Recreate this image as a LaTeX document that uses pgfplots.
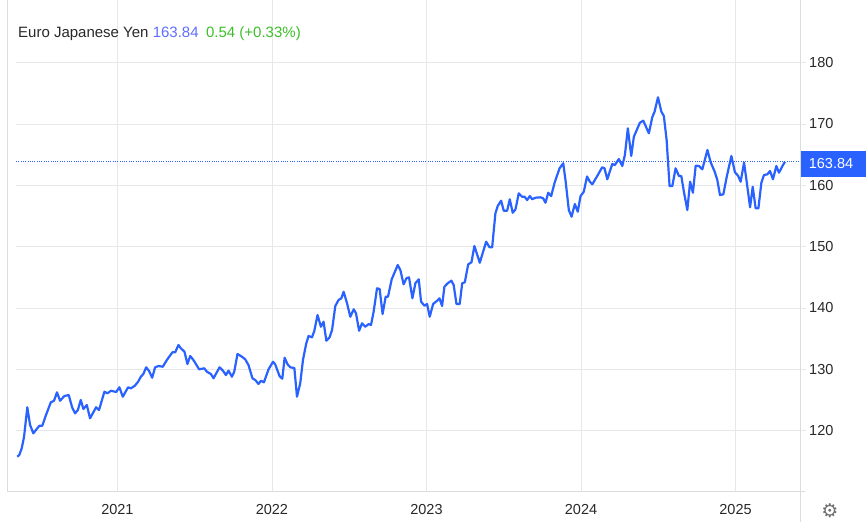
\documentclass[border=0pt]{standalone}
\usepackage{pgfplots}
\pgfplotsset{compat=1.18}
\usepackage{fontspec}
\setmainfont{Liberation Sans}
\newfontfamily\symfont{DejaVu Sans}
\definecolor{lineblue}{RGB}{41,98,255}
\definecolor{gridc}{RGB}{230,232,235}
\definecolor{axisc}{RGB}{218,220,224}
\definecolor{txt}{RGB}{40,40,40}
\definecolor{valblue}{RGB}{95,110,255}
\definecolor{valgreen}{RGB}{60,190,40}
\definecolor{boxblue}{RGB}{41,98,255}
\definecolor{gearc}{RGB}{110,110,110}
\begin{document}
\begin{tikzpicture}
\path[use as bounding box] (0pt,0pt) rectangle (866pt,522pt);
\begin{axis}[
  at={(7pt,30.3pt)}, anchor=south west,
  scale only axis, width=793.7pt, height=491.7pt,
  xmin=2020.2856, xmax=2025.4216,
  ymin=110.02, ymax=190.23,
  axis line style={draw=none},
  xtick={2021,2022,2023,2024,2025},
  xticklabels={2021,2022,2023,2024,2025},
  xmajorgrids, grid style={gridc, line width=0.8pt},
  xtick style={draw=none},
  ytick={120,130,140,150,160,170,180},
  ytick pos=right, yticklabel pos=right,
  ytick style={gridc, line width=0.8pt},
  tick align=outside, major tick length=5pt,
  ticklabel style={font=\fontsize{14.5}{16}\selectfont, text=txt},
  xticklabel style={yshift=-4pt},
  yticklabel style={anchor=west, xshift=0pt},
  /pgf/number format/assume math mode=true,
  clip=false,
]
\draw[gridc, line width=0.8pt] (axis cs:2020.344,120) -- (axis cs:2025.4216,120);
\draw[gridc, line width=0.8pt] (axis cs:2020.344,130) -- (axis cs:2025.4216,130);
\draw[gridc, line width=0.8pt] (axis cs:2020.344,140) -- (axis cs:2025.4216,140);
\draw[gridc, line width=0.8pt] (axis cs:2020.344,150) -- (axis cs:2025.4216,150);
\draw[gridc, line width=0.8pt] (axis cs:2020.344,160) -- (axis cs:2025.4216,160);
\draw[gridc, line width=0.8pt] (axis cs:2020.344,170) -- (axis cs:2025.4216,170);
\draw[gridc, line width=0.8pt] (axis cs:2020.344,180) -- (axis cs:2025.4216,180);
\draw[lineblue, line width=1pt, dash pattern=on 1pt off 1.3pt] (axis cs:2020.344,163.84) -- (axis cs:2025.4216,163.84);
\addplot[lineblue, line width=2.2pt, line join=round, mark=none] coordinates {
(2020.352,115.73) (2020.365,116.00) (2020.381,117.10) (2020.396,118.99) (2020.417,123.79)
(2020.435,120.90) (2020.456,119.54) (2020.478,120.25) (2020.495,120.78) (2020.514,120.78)
(2020.538,122.53) (2020.569,124.60) (2020.590,124.86) (2020.609,126.23) (2020.629,124.86)
(2020.657,125.63) (2020.685,125.79) (2020.707,123.79) (2020.726,122.81) (2020.744,123.34)
(2020.763,124.98) (2020.780,123.51) (2020.802,124.16) (2020.823,121.99) (2020.862,123.79)
(2020.881,123.34) (2020.916,126.33) (2020.935,126.07) (2020.959,126.49) (2020.992,126.28)
(2021.013,127.05) (2021.035,125.51) (2021.069,127.05) (2021.087,126.88) (2021.113,127.31)
(2021.134,127.96) (2021.152,128.78) (2021.168,129.22) (2021.186,130.31) (2021.205,129.71)
(2021.225,128.61) (2021.244,130.31) (2021.266,130.52) (2021.294,130.41) (2021.320,131.50)
(2021.356,132.76) (2021.374,132.76) (2021.395,133.95) (2021.411,133.41) (2021.434,132.86)
(2021.453,130.85) (2021.471,132.15) (2021.492,131.50) (2021.529,129.98) (2021.562,130.15)
(2021.579,129.59) (2021.605,129.22) (2021.622,128.52) (2021.661,130.31) (2021.683,129.76)
(2021.702,129.05) (2021.719,129.76) (2021.741,128.78) (2021.756,129.59) (2021.777,132.48)
(2021.806,132.04) (2021.827,131.62) (2021.848,130.69) (2021.874,128.52) (2021.892,128.24)
(2021.913,127.59) (2021.929,128.12) (2021.948,127.86) (2021.978,129.98) (2022.007,131.22)
(2022.021,130.80) (2022.049,128.89) (2022.067,128.45) (2022.082,131.88) (2022.101,130.80)
(2022.119,130.31) (2022.145,130.20) (2022.162,125.51) (2022.183,127.70) (2022.201,131.55)
(2022.222,134.19) (2022.237,135.42) (2022.259,135.20) (2022.274,136.23) (2022.295,138.84)
(2022.317,136.93) (2022.334,137.75) (2022.352,134.65) (2022.373,135.20) (2022.389,136.39)
(2022.410,140.31) (2022.431,141.29) (2022.449,141.57) (2022.464,142.64) (2022.486,140.75)
(2022.507,138.56) (2022.529,139.77) (2022.544,139.12) (2022.564,136.28) (2022.583,137.49)
(2022.604,136.93) (2022.626,137.37) (2022.641,137.21) (2022.658,139.38) (2022.680,143.20)
(2022.697,143.08) (2022.716,139.01) (2022.736,141.83) (2022.751,141.83) (2022.775,144.67)
(2022.814,147.00) (2022.831,146.18) (2022.852,143.85) (2022.870,144.83) (2022.887,144.99)
(2022.909,141.57) (2022.928,144.01) (2022.950,144.67) (2022.965,141.01) (2022.987,140.36)
(2023.004,140.64) (2023.021,138.56) (2023.043,140.64) (2023.069,141.17) (2023.084,141.57)
(2023.101,140.31) (2023.116,143.46) (2023.137,144.01) (2023.161,144.44) (2023.176,143.74)
(2023.194,140.64) (2023.215,140.64) (2023.231,144.01) (2023.248,144.18) (2023.270,147.11)
(2023.291,147.44) (2023.310,150.10) (2023.345,147.37) (2023.386,150.80) (2023.408,149.89)
(2023.425,149.89) (2023.446,155.43) (2023.461,156.62) (2023.483,157.49) (2023.500,155.86)
(2023.522,155.86) (2023.539,157.72) (2023.558,155.53) (2023.576,156.08) (2023.597,158.69)
(2023.619,158.14) (2023.634,158.14) (2023.652,157.60) (2023.669,158.25) (2023.684,157.72)
(2023.705,157.98) (2023.738,158.04) (2023.755,157.88) (2023.770,157.16) (2023.788,158.79)
(2023.807,158.25) (2023.829,160.42) (2023.861,162.77) (2023.885,163.59) (2023.900,160.75)
(2023.921,155.97) (2023.939,154.88) (2023.960,156.95) (2023.979,155.69) (2023.997,158.25)
(2024.018,158.96) (2024.039,161.44) (2024.057,160.59) (2024.073,160.16) (2024.105,161.52)
(2024.137,162.94) (2024.152,162.77) (2024.170,160.98) (2024.202,163.47) (2024.219,163.31)
(2024.245,164.29) (2024.267,163.15) (2024.284,164.94) (2024.303,169.30) (2024.325,164.78)
(2024.342,167.93) (2024.381,170.21) (2024.403,170.54) (2024.439,168.48) (2024.461,171.09)
(2024.476,172.01) (2024.498,174.36) (2024.520,172.01) (2024.536,171.30) (2024.554,167.39)
(2024.573,159.89) (2024.591,159.89) (2024.612,162.77) (2024.634,161.52) (2024.649,161.52)
(2024.666,158.91) (2024.688,155.97) (2024.706,160.59) (2024.724,158.79) (2024.742,163.20)
(2024.763,163.15) (2024.785,162.61) (2024.818,165.76) (2024.839,163.75) (2024.865,162.22)
(2024.882,160.86) (2024.899,158.42) (2024.921,158.53) (2024.943,161.40) (2024.973,164.78)
(2024.996,162.12) (2025.016,161.57) (2025.033,160.59) (2025.055,163.69) (2025.072,160.59)
(2025.094,156.41) (2025.111,159.77) (2025.130,156.25) (2025.148,156.25) (2025.167,160.42)
(2025.184,161.68) (2025.206,161.79) (2025.223,162.33) (2025.242,160.98) (2025.264,163.15)
(2025.281,162.06) (2025.307,163.31) (2025.320,163.84)
};
\end{axis}
% frame lines
\draw[axisc, line width=0.8pt] (7pt,30.3pt) -- (7pt,522pt);
\draw[axisc, line width=0.8pt] (7pt,30.3pt) -- (805pt,30.3pt);
\draw[axisc, line width=0.8pt] (800.7pt,0pt) -- (800.7pt,522pt);
% last value box
\fill[boxblue] (800.7pt,345.3pt) rectangle (866pt,371pt);
\node[text=white, font=\fontsize{14.5}{16}\selectfont, anchor=center] at (831pt,358.2pt) {163.84};
% title
\node[anchor=base west, inner sep=0pt, font=\fontsize{15}{17}\selectfont] at (18pt,484.5pt)
  {\textcolor{txt}{Euro Japanese Yen} \textcolor{valblue}{163.84}\hspace{0.5em}\textcolor{valgreen}{0.54 (+0.33\%)}};
% gear
\node[text=gearc, font=\symfont\fontsize{19}{20}\selectfont, anchor=center, inner sep=0pt] at (830pt,11pt) {⚙};
\end{tikzpicture}
\end{document}
